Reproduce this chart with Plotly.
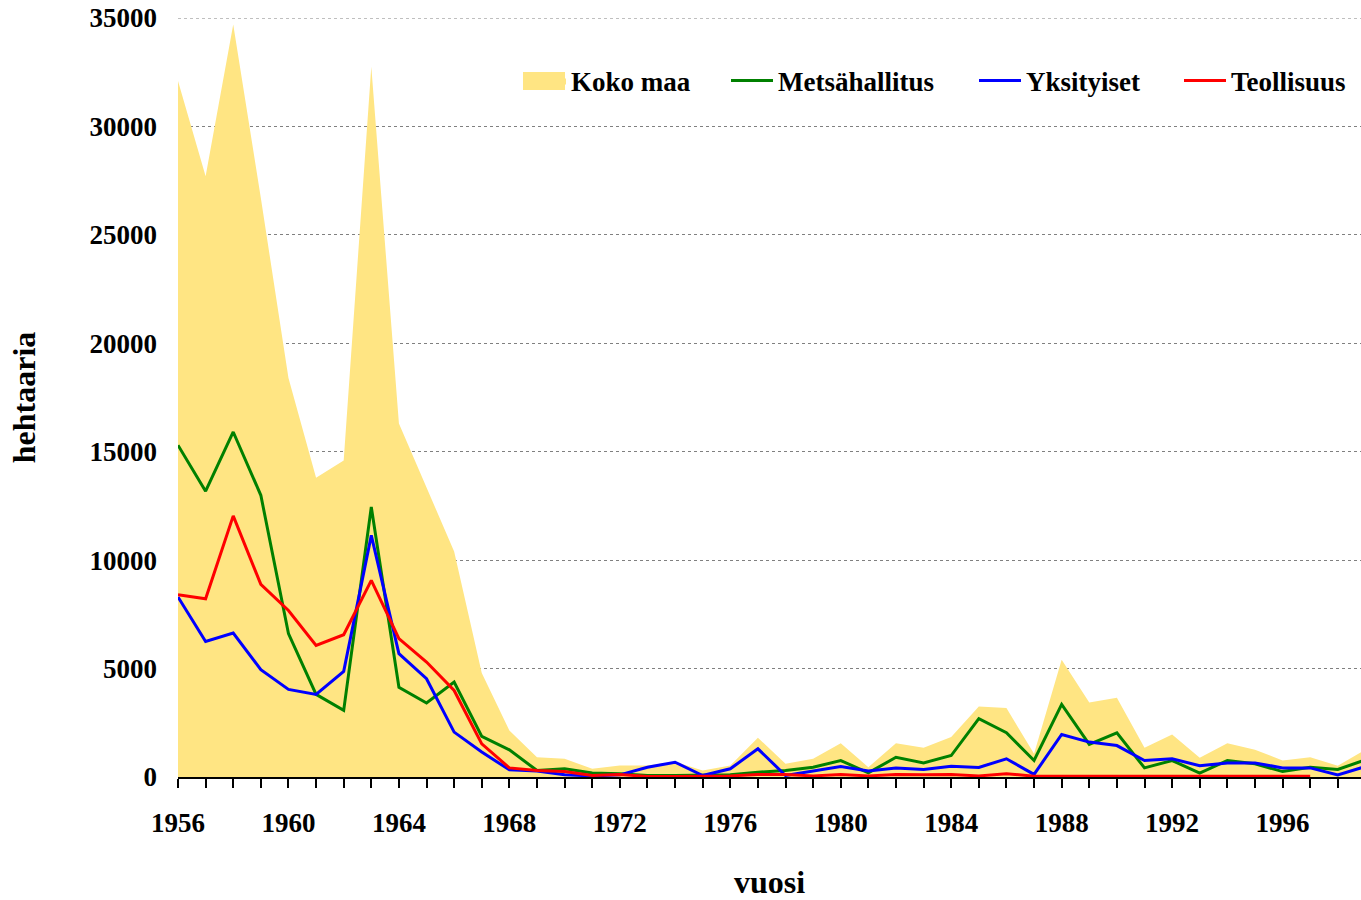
import plotly.graph_objects as go

years = list(range(1956, 2000))

koko_maa = [32100, 27700, 34700, 26700, 18400, 13800, 14600, 32750, 16300, 13350,
            10400, 4800, 2150, 910, 840, 380, 530, 530, 700, 300,
            530, 1810, 610, 840, 1560, 450, 1560, 1350, 1840, 3250,
            3180, 1070, 5410, 3440, 3650, 1350, 1960, 890, 1560, 1260,
            760, 910, 520, 1260]

metsahallitus = [15300, 13180, 15910, 12990, 6610, 3810, 3070, 12450, 4140, 3410,
                 4380, 1870, 1250, 300, 380, 190, 150, 70, 70, 70,
                 100, 220, 300, 450, 760, 190, 910, 650, 990, 2690,
                 2040, 760, 3350, 1500, 2040, 420, 760, 180, 760, 610,
                 250, 450, 350, 790]

yksityiset = [8300, 6250, 6640, 4950, 4040, 3810, 4870, 11140, 5690, 4530,
              2070, 1150, 330, 280, 100, 50, 100, 450, 680, 70,
              380, 1300, 70, 280, 480, 280, 420, 350, 500, 440,
              840, 120, 1960, 1610, 1450, 760, 840, 520, 650, 650,
              420, 420, 100, 480]

# Teollisuus ends in 1997
teollisuus = [8400, 8220, 12040, 8880, 7680, 6070, 6560, 9070, 6380, 5300,
              3990, 1530, 420, 300, 250, 70, 120, 20, 20, 20,
              50, 120, 120, 50, 120, 50, 120, 100, 120, 50,
              150, 40, 30, 30, 30, 30, 30, 30, 30, 30,
              30, 30]

y_max = 35000

font_name = "Liberation Serif, Times New Roman, serif"
fill_col = "#FFE583"

# plot area in page pixels (body margin removed below)
L, T, W, H = 178, 18, 1183, 759
FIG_W, FIG_H = 1361, 900

def px_x(px):
    return (px - L) / W

def px_y(py):
    return (T + H - py) / H

fig = go.Figure()
fig.add_trace(go.Scatter(x=years, y=koko_maa, name="Koko maa", mode="lines",
                         fill="tozeroy", fillcolor=fill_col,
                         line=dict(width=0, color=fill_col), legend="legend"))
fig.add_trace(go.Scatter(x=years, y=metsahallitus, name="Metsähallitus", mode="lines",
                         line=dict(color="#008000", width=3), legend="legend2"))
fig.add_trace(go.Scatter(x=years, y=yksityiset, name="Yksityiset", mode="lines",
                         line=dict(color="#0000FF", width=3), legend="legend3"))
fig.add_trace(go.Scatter(x=years[:len(teollisuus)], y=teollisuus, name="Teollisuus", mode="lines",
                         line=dict(color="#FF0000", width=3), legend="legend4"))

leg_y = px_y(81)
def leg(x_page):
    return dict(orientation="h", x=px_x(x_page - 4), xanchor="left", y=leg_y, yanchor="middle",
                bgcolor="rgba(0,0,0,0)", font=dict(size=27, weight="bold", family=font_name),
                itemwidth=42)

fig.update_layout(
    width=FIG_W, height=FIG_H,
    margin=dict(l=L, r=0, t=T, b=FIG_H - T - H, autoexpand=False),
    plot_bgcolor="white", paper_bgcolor="white",
    font=dict(family=font_name, size=27, color="black", weight="bold"),
    showlegend=True,
    legend=leg(523), legend2=leg(730), legend3=leg(978), legend4=leg(1183),
    shapes=[
        # top gridline (plotly drops the grid line on the plot edge)
        dict(type="line", xref="paper", yref="y", x0=0, x1=1, y0=y_max, y1=y_max,
             line=dict(color="#808080", width=1, dash="dot"), layer="below"),
        # bigger legend swatch for the area
        dict(type="rect", xref="paper", yref="paper",
             x0=px_x(523), x1=px_x(565), y0=px_y(90), y1=px_y(72),
             fillcolor=fill_col, line=dict(width=0), layer="above"),
    ],
)
fig.update_xaxes(range=[1956, 1998.84], tick0=1956, dtick=4,
                 ticks="outside", ticklen=9, tickwidth=1.5, tickcolor="black",
                 minor=dict(dtick=1, ticks="outside", ticklen=9, tickwidth=1.5, tickcolor="black"),
                 showline=True, linecolor="black", linewidth=2,
                 showgrid=False, zeroline=False, ticklabelstandoff=12,
                 automargin=False,
                 title=dict(text="vuosi", standoff=38))
fig.update_yaxes(range=[0, y_max], dtick=5000, tickformat="d", showgrid=True,
                 gridcolor="#808080", griddash="dot", gridwidth=1,
                 zeroline=False, showline=False, ticks="", ticklabelstandoff=20,
                 ticklabeloverflow="allow", automargin=False,
                 title=dict(text="hehtaaria", standoff=44))

fig.write_html("out.html", config={"displayModeBar": False},
               post_script="document.body.style.margin='0';document.body.style.overflow='hidden';")
